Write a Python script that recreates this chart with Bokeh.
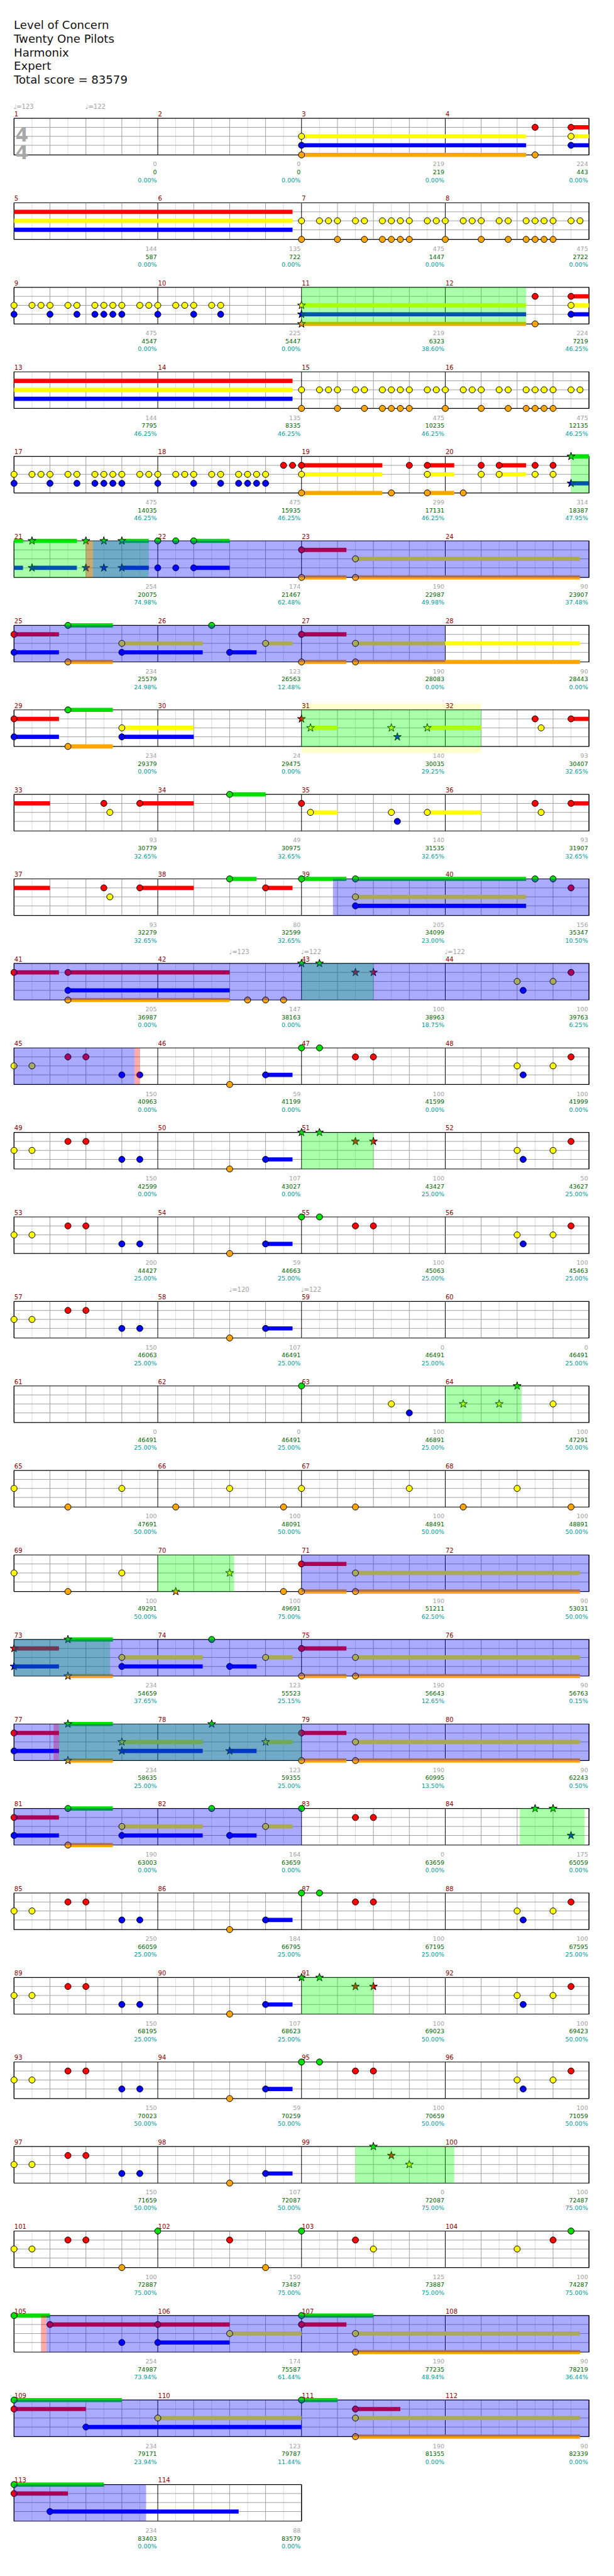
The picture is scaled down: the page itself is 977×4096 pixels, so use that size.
import re
from bokeh.plotting import figure
from bokeh.models import Range1d, ColumnDataSource
from bokeh.embed import file_html
from bokeh.resources import INLINE
from bokeh.core.properties import value

# ---------------- data ----------------
TITLE = ["Level of Concern", "Twenty One Pilots", "Harmonix", "Expert", "Total score = 83579"]

# notes per measure: "<pos16><lanes>[-<sustain16>][*]"   (* = star-power note)
M7 = "0YO 2Y 3Y 4YO 6Y 7YO 9YO 10YO 11YO 12YO 14Y 15Y"
M9 = "0YB 2Y 3Y 4YB 6Y 7YB 9YB 10YB 11YB 12YB 14Y 15Y"
NOTES = [
    "", "", "0YBO-25", "10RO 14RYB-33",                       # 1-4
    "", "", M7, M7,                                            # 5-8
    M9, "0YB 2Y 3Y 4YB 6Y 7YB", "0YBO-25*", "10RO 14RYB-33",   # 9-12
    "", "", M7, M7,                                            # 13-16
    M9, "0YB 2Y 3Y 4YB 6Y 7YB 9YB 10YB 11YB 12YB 14R 15R",
    "0RYO-9 10O 12R 14RYO-3", "2O 4RY 6RY-3 10RY 12RY 14GB-3*",  # 17-20
    "2GB-5* 8GB* 10GB* 12GB-3*", "0GB 2GB 4GB-4", "0RO-5 6YO-25", "",  # 21-24
    "0RB-5 6GO-5 12YB-9", "6G 8B-3 12Y-3", "0RO-5 6YO-25", "",  # 25-28
    "0RB-5 6GO-5 12YB-8", "", "0R* 1Y-3* 10Y* 10.67B* 14Y-6*", "10R 10.67Y 14R-6",  # 29-32
    "10R 10.67Y 14R-6", "8G-4", "0R 1Y-3 10Y 10.67B 14Y-6", "10R 10.67Y 14R-6",  # 33-36
    "10R 10.67Y 14R-6", "8G-3 12R-3", "0G-5 6GYB-19", "10G 12G 14R",  # 37-40
    "0R-5 6RBO-18", "10O 12O 14O", "0G* 2G* 6R* 8R*", "8Y 8.67B 12Y 14R",  # 41-44
    "0Y 2Y 6R 8R 12B 14B", "8O 12B-3", "0G 2G 6R 8R", "8Y 8.67B 12Y 14R",  # 45-48
    "0Y 2Y 6R 8R 12B 14B", "8O 12B-3", "0G* 2G* 6R* 8R*", "8Y 8.67B 12Y 14R",  # 49-52
    "0Y 2Y 6R 8R 12B 14B", "8O 12B-3", "0G 2G 6R 8R", "8Y 8.67B 12Y 14R",  # 53-56
    "0Y 2Y 6R 8R 12B 14B", "8O 12B-3", "", "",  # 57-60
    "", "", "0G 10Y 12B", "2Y* 6Y* 8G* 12Y",  # 61-64
    "0Y 6O 12Y", "2O 8Y 14O", "0Y 6O 12Y", "2O 8Y 14O",  # 65-68
    "0Y 6O 12Y", "2O* 8Y* 14O", "0RO-5 6YO-25", "",  # 69-72
    "0RB-5* 6GO-5* 12YB-9", "6G 8B-3 12Y-3", "0RO-5 6YO-25", "",  # 73-76
    "0RB-5 6GO-5* 12YB-9*", "6G* 8B-3* 12Y-3*", "0RO-5 6YO-25", "",  # 77-80
    "0RB-5 6GO-5 12YB-9", "6G 8B-3 12Y-3", "0G 6R 8R", "10G* 12G* 14B*",  # 81-84
    "0Y 2Y 6R 8R 12B 14B", "8O 12B-3", "0G 2G 6R 8R", "8Y 8.67B 12Y 14R",  # 85-88
    "0Y 2Y 6R 8R 12B 14B", "8O 12B-3", "0G* 2G* 6R* 8R*", "8Y 8.67B 12Y 14R",  # 89-92
    "0Y 2Y 6R 8R 12B 14B", "8O 12B-3", "0G 2G 6R 8R", "8Y 8.67B 12Y 14R",  # 93-96
    "0Y 2Y 6R 8R 12B 14B", "8O 12B-3", "8G* 10R* 12Y*", "",  # 97-100
    "0Y 2Y 6R 8R 12O", "0G 8R 12O", "0G 6R 8Y", "8Y 12R 14G",  # 101-104
    "0G-4 4R-12 12B", "0RB-8 8Y-8", "0G-8 0R-5 6YO-25", "",  # 105-108
    "0G-12 0R-8 8B-24", "0Y-16", "0G-4 6R-5 6YO-25", "",  # 109-112
    "0G-10 0R-6 4B-21", "",  # 113-114
]

SCORE = [0, 0, 219, 224, 144, 135, 475, 475, 475, 225, 219, 224, 144, 135, 475, 475,
         475, 475, 299, 314, 254, 174, 190, 90, 234, 123, 190, 90, 234, 24, 140, 93,
         93, 49, 140, 93, 93, 80, 205, 156, 205, 147, 100, 100, 150, 59, 100, 100,
         150, 107, 100, 50, 200, 59, 100, 100, 150, 107, 0, 0, 0, 0, 100, 100,
         100, 100, 100, 100, 100, 100, 190, 90, 234, 123, 190, 90, 234, 123, 190, 90,
         190, 164, 0, 175, 250, 184, 100, 100, 150, 107, 100, 100, 150, 59, 100, 100,
         150, 107, 0, 100, 100, 150, 125, 100, 254, 174, 190, 90, 234, 123, 190, 90,
         234, 88]
TOTAL = [0, 0, 219, 443, 587, 722, 1447, 2722, 4547, 5447, 6323, 7219, 7795, 8335, 10235, 12135,
         14035, 15935, 17131, 18387, 20075, 21467, 22987, 23907, 25579, 26563, 28083, 28443,
         29379, 29475, 30035, 30407, 30779, 30975, 31535, 31907, 32279, 32599, 34099, 35347,
         36987, 38163, 38963, 39763, 40963, 41199, 41599, 41999,
         42599, 43027, 43427, 43627, 44427, 44663, 45063, 45463,
         46063, 46491, 46491, 46491, 46491, 46491, 46891, 47291,
         47691, 48091, 48491, 48891, 49291, 49691, 51211, 53031,
         54659, 55523, 56643, 56763, 58635, 59355, 60995, 62243,
         63003, 63659, 63659, 65059, 66059, 66795, 67195, 67595,
         68195, 68623, 69023, 69423, 70023, 70259, 70659, 71059,
         71659, 72087, 72087, 72487, 72887, 73487, 73887, 74287,
         74987, 75587, 77235, 78219, 79171, 79787, 81355, 82339,
         83403, 83579]
PERCENT = (["0.00%"] * 10 + ["38.60%"] + ["46.25%"] * 8 +
           ["47.95%", "74.98%", "62.48%", "49.98%", "37.48%", "24.98%", "12.48%",
            "0.00%", "0.00%", "0.00%", "0.00%", "29.25%"] +
           ["32.65%"] * 7 + ["23.00%", "10.50%", "0.00%", "0.00%", "18.75%", "6.25%"] +
           ["0.00%"] * 6 + ["25.00%"] * 13 + ["50.00%"] * 6 +
           ["75.00%", "62.50%", "50.00%", "37.65%", "25.15%", "12.65%", "0.15%",
            "25.00%", "25.00%", "13.50%", "0.50%"] + ["0.00%"] * 4 + ["25.00%"] * 6 +
           ["50.00%"] * 8 + ["75.00%"] * 6 +
           ["73.94%", "61.44%", "48.94%", "36.44%", "23.94%", "11.44%", "0.00%", "0.00%",
            "0.00%", "0.00%"])

# regions: (measure, pos16, measure, pos16)
STAR_ZONES = [(11, 0, 12, 9), (20, 14, 21, 15), (31, 0, 32, 4), (43, 0, 43, 8), (51, 0, 51, 8),
              (64, 0, 64, 8.5), (70, 0, 70, 8.5), (73, 0, 73, 10.7), (77, 5, 79, 0),
              (84, 8.3, 84, 15.5), (91, 0, 91, 8), (99, 6, 100, 1)]
DRIVE_ZONES = [(21, 8.8, 28, 0), (39, 3.5, 45, 13.4), (71, 0, 83, 0), (105, 3.6, 113, 14.7)]
RED_ZONES = [(21, 8, 21, 8.8), (45, 13.4, 45, 14), (77, 4.4, 77, 5), (105, 3, 105, 3.6)]
GLOW_ZONES = [(31, 0, 32, 4)]
TEMPOS = [(1, 0, "123"), (1, 8, "122"), (42, 8, "123"), (43, 0, "122"), (44, 0, "122"),
          (58, 8, "120"), (59, 0, "122")]
N_MEASURES = 114

# ---------------- geometry ----------------
S = 0.953
W, H = 961, 4080
X0, Y0, MW, RP = 31.3, 205.3, 240.0, 141.0
LANE_DY = [0, 15, 30, 45, 61]
LANE_COL = {"G": "#00dd00", "R": "#ff0000", "Y": "#ffff00", "B": "#0000ff", "O": "#ffa500"}
LANE_IDX = {"G": 0, "R": 1, "Y": 2, "B": 3, "O": 4}
N_ROWS = (N_MEASURES + 3) // 4
END16 = N_MEASURES * 16

def row_top(r):
    return Y0 + RP * r

def absx(a):
    r = int(a // 64)
    return r, X0 + (a - 64 * r) * 15.0

def row_measures(r):
    return min(4, N_MEASURES - 4 * r)

p = figure(width=W, height=H, output_backend="svg", toolbar_location=None,
           x_range=Range1d(8 / S, (8 + W) / S), y_range=Range1d((8 + H) / S, 8 / S),
           x_axis_type=None, y_axis_type=None, min_border=0)
p.grid.visible = False
p.outline_line_color = None
p.background_fill_color = "white"

def zone_quads(zones, y_pad=0.0):
    l, r_, t, b = [], [], [], []
    for (m1, p1, m2, p2) in zones:
        a, e = (m1 - 1) * 16 + p1, min((m2 - 1) * 16 + p2, END16)
        while a < e - 1e-6:
            row = int(a // 64)
            seg_end = min(e, 64 * (row + 1))
            _, xa = absx(a)
            xb = X0 + (seg_end - 64 * row) * 15.0
            l.append(xa); r_.append(xb)
            t.append(row_top(row) - y_pad); b.append(row_top(row) + 61 + y_pad)
            a = seg_end
    return dict(left=l, right=r_, top=t, bottom=b)

# glow zones (behind staff)
gz = zone_quads(GLOW_ZONES, 10.5)
p.quad(source=ColumnDataSource(gz), left="left", right="right", top="top", bottom="bottom",
       fill_color="#ffff00", fill_alpha=0.2, line_color=None)

# staff boxes + grid
box = dict(left=[], right=[], top=[], bottom=[])
seg = {k: dict(x0=[], y0=[], x1=[], y1=[]) for k in ("light", "mid", "dark")}
for r in range(N_ROWS):
    nm = row_measures(r)
    top = row_top(r)
    right = X0 + MW * nm
    box["left"].append(X0); box["right"].append(right)
    box["top"].append(top); box["bottom"].append(top + 61)
    for k in range(nm * 8 + 1):
        x = X0 + 30 * k
        key = "dark" if k % 8 == 0 else ("mid" if k % 2 == 0 else "light")
        for kk, v in zip(("x0", "y0", "x1", "y1"), (x, top, x, top + 61)):
            seg[key][kk].append(v)
    for ln in (1, 2, 3):
        y = top + LANE_DY[ln]
        for kk, v in zip(("x0", "y0", "x1", "y1"), (X0, y, right, y)):
            seg["mid"][kk].append(v)
p.quad(source=ColumnDataSource(box), left="left", right="right", top="top", bottom="bottom",
       fill_color="white", line_color=None)
for key, col in (("light", "#dcdcdc"), ("mid", "#a0a0a0"), ("dark", "#000000")):
    p.segment(source=ColumnDataSource(seg[key]), x0="x0", y0="y0", x1="x1", y1="y1",
              line_color=col, line_width=1)
p.quad(source=ColumnDataSource(box), left="left", right="right", top="top", bottom="bottom",
       fill_color=None, line_color="black", line_width=1.2)

# notes
tok = re.compile(r"([\d.]+)([GRYBO]+)(?:-([\d.]+))?(\*)?")
sus = dict(left=[], right=[], top=[], bottom=[], color=[])
heads = dict(x=[], y=[], color=[], marker=[], size=[])
for mi, s in enumerate(NOTES):
    for m in tok.finditer(s):
        pos = float(m.group(1)); lanes = m.group(2)
        ln_len = float(m.group(3)) if m.group(3) else 0.0
        star = bool(m.group(4))
        a = mi * 16 + pos
        row, x = absx(a)
        for c in lanes:
            y = row_top(row) + LANE_DY[LANE_IDX[c]]
            heads["x"].append(x); heads["y"].append(y); heads["color"].append(LANE_COL[c])
            heads["marker"].append("star" if star else "circle")
            heads["size"].append(14 * S if star else 10.3 * S)
            if ln_len > 0:
                st, e = a, min(a + ln_len, END16)
                while st < e - 1e-6:
                    rr = int(st // 64)
                    se = min(e, 64 * (rr + 1))
                    yy = row_top(rr) + LANE_DY[LANE_IDX[c]]
                    sus["left"].append(X0 + (st - 64 * rr) * 15.0)
                    sus["right"].append(X0 + (se - 64 * rr) * 15.0)
                    sus["top"].append(yy - 3.5); sus["bottom"].append(yy + 3.5)
                    sus["color"].append(LANE_COL[c])
                    st = se
p.quad(source=ColumnDataSource(sus), left="left", right="right", top="top", bottom="bottom",
       fill_color="color", line_color=None)
p.scatter(source=ColumnDataSource(heads), x="x", y="y", marker="marker", size="size",
          fill_color="color", line_color="black", line_width=1)

# overlays
for zones, col in ((STAR_ZONES, "#00ff00"), (RED_ZONES, "#ff0000"), (DRIVE_ZONES, "#0000ff")):
    p.quad(source=ColumnDataSource(zone_quads(zones)), left="left", right="right", top="top",
           bottom="bottom", fill_color=col, fill_alpha=1 / 3, line_color=None)

# texts
def txt(x, y, t, color, size, font="DejaVu Sans", align="left", bold=False):
    p.text(x=x, y=y, text=t, text_color=color, text_font_size=f"{size * S:.1f}px",
           text_font=value(font), text_align=align, text_baseline="alphabetic",
           text_font_style="bold" if bold else "normal")

txt([31] * 5, [49.3, 72.3, 95, 118, 140.7], TITLE, "#111111", 19)

nx, ny, nt = [], [], []
sx, gy, ty, ly = [], [], [], []
gt, tt, lt = [], [], []
for mi in range(N_MEASURES):
    r = mi // 4; k = mi % 4; top = row_top(r)
    nx.append(X0 + MW * k + 0.5); ny.append(top - 7.6); nt.append(str(mi + 1))
    xr = X0 + MW * (k + 1) - 1.6
    sx.append(xr); gy.append(top + 76.4); ty.append(top + 89.7); ly.append(top + 102.7)
    gt.append(str(SCORE[mi])); tt.append(str(TOTAL[mi])); lt.append(PERCENT[mi])
txt(nx, ny, nt, "#8b0000", 10.5)
txt(sx, gy, gt, "#a0a0a0", 10, align="right")
txt(sx, ty, tt, "#006400", 10, align="right")
txt(sx, ly, lt, "#009999", 10, align="right")

tx, tyy, tt2 = [], [], []
for (m, pos, bpm) in TEMPOS:
    a = (m - 1) * 16 + pos
    r, x = absx(a)
    tx.append(x - 1); tyy.append(row_top(r) - 19.6); tt2.append("\u2669=" + bpm)
txt(tx, tyy, tt2, "#a0a0a0", 10.5)

txt([44.5, 44.5], [232, 262], ["4", "4"], "#a8a8a8", 31, align="center", bold=True)

open("out.html", "w").write(file_html(p, INLINE))
